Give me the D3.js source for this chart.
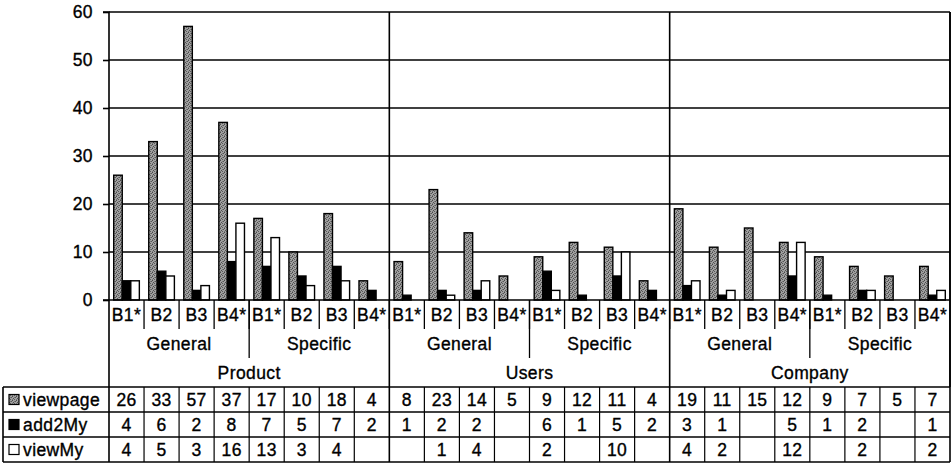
<!DOCTYPE html>
<html>
<head>
<meta charset="utf-8">
<script src="https://cdn.jsdelivr.net/npm/d3@7"></script>
<style>
  html, body { margin: 0; padding: 0; background: #fff; }
  svg { display: block; }
  text { font-family: "Liberation Sans", Arial, sans-serif; fill: #000; stroke: #000; stroke-width: 0.35px; letter-spacing: 0.4px; }
</style>
</head>
<body>
<svg id="chart" width="952" height="465"></svg>
<script>
// Category hierarchy: group > subgroup > item
const groups = ["Product", "Users", "Company"];
const subgroups = ["General", "Specific"];
const items = ["B1*", "B2", "B3", "B4*"];

// Series values, one per category (null = no entry)
const seriesNames = ["viewpage", "add2My", "viewMy"];
const viewpage = [26, 33, 57, 37, 17, 10, 18, 4,
                  8, 23, 14, 5, 9, 12, 11, 4,
                  19, 11, 15, 12, 9, 7, 5, 7];
const add2My = [4, 6, 2, 8, 7, 5, 7, 2,
                1, 2, 2, null, 6, 1, 5, 2,
                3, 1, null, 5, 1, 2, null, 1];
const viewMy = [4, 5, 3, 16, 13, 3, 4, null,
                null, 1, 4, null, 2, null, 10, null,
                4, 2, null, 12, null, 2, null, 2];

const yTicks = [0, 10, 20, 30, 40, 50, 60];

// Flattened category list
const categories = [];
groups.forEach(g => subgroups.forEach(s => items.forEach(it =>
  categories.push({ group: g, sub: s, item: it, key: g + "|" + s + "|" + it }))));

const seriesValues = { viewpage, add2My, viewMy };

const svg = d3.select("#chart");
const FS = 17.5;

// Layout
const plotL = 109, plotR = 950, plotT = 12, plotB = 300;
const rowH1 = 29, rowH2 = 29, rowH3 = 29;
const tableTop = plotB + rowH1 + rowH2 + rowH3; // 387
const tRowH = 25;
const tableLeft = 3;

const x = d3.scaleBand().domain(categories.map(c => c.key)).range([plotL, plotR]).padding(0);
const xs = d3.scaleBand().domain(seriesNames).range([0, x.bandwidth()])
  .paddingInner(0).paddingOuter(0.55);
const y = d3.scaleLinear().domain([0, 60]).range([plotB, plotT]);

// Stippled fill for viewpage
const defs = svg.append("defs");
const pat = defs.append("pattern").attr("id", "dots")
  .attr("width", 4).attr("height", 4).attr("patternUnits", "userSpaceOnUse");
pat.append("rect").attr("width", 4).attr("height", 4).attr("fill", "#a0a0a0");
[[0, 0, "#4a4a4a"], [3, 1, "#555"], [1, 2, "#4f4f4f"], [2, 3, "#5a5a5a"], [2, 1, "#777"], [0, 3, "#777"]]
  .forEach(([px, py, c]) => pat.append("rect").attr("x", px).attr("y", py)
    .attr("width", 1).attr("height", 1).attr("fill", c));

const fills = { viewpage: "url(#dots)", add2My: "#000", viewMy: "#fff" };

// Horizontal gridlines
svg.append("g").selectAll("line").data(yTicks.filter(t => t > 0)).join("line")
  .attr("x1", plotL).attr("x2", plotR)
  .attr("y1", d => y(d)).attr("y2", d => y(d))
  .attr("stroke", "#000").attr("stroke-width", 1.6);

// Y axis
const yAxis = d3.axisLeft(y).tickValues(yTicks).tickSize(6).tickPadding(10);
const ya = svg.append("g").attr("transform", `translate(${plotL},0)`).call(yAxis);
ya.select(".domain").attr("stroke", "#000").attr("stroke-width", 1.6)
  .attr("d", `M-6,${plotT}H0V${tableTop}`);
ya.selectAll(".tick line").attr("stroke", "#000").attr("stroke-width", 1.6);
ya.selectAll(".tick text").attr("font-size", FS).attr("font-family", "Liberation Sans, Arial, sans-serif")
  .attr("fill", "#000").attr("dy", "0.34em");

// Group boundaries (full-height lines)
const groupEdges = groups.map((g, i) => plotL + (i + 1) * 8 * x.step());
svg.append("g").selectAll("line").data(groupEdges).join("line")
  .attr("x1", d => d).attr("x2", d => d)
  .attr("y1", plotT).attr("y2", tableTop)
  .attr("stroke", "#000").attr("stroke-width", 1.6);

// Bars
const barG = svg.append("g");
seriesNames.forEach(s => {
  barG.append("g").selectAll("rect")
    .data(categories.map((c, i) => ({ c, v: seriesValues[s][i] })).filter(d => d.v != null && d.v > 0))
    .join("rect")
    .attr("x", d => x(d.c.key) + xs(s))
    .attr("width", xs.bandwidth())
    .attr("y", d => y(d.v))
    .attr("height", d => y(0) - y(d.v))
    .attr("fill", fills[s])
    .attr("stroke", "#000").attr("stroke-width", 1.4);
});

// Baseline
svg.append("line").attr("x1", plotL - 6).attr("x2", plotR)
  .attr("y1", plotB).attr("y2", plotB).attr("stroke", "#000").attr("stroke-width", 1.6);

// Category axis: item labels and separators
const axG = svg.append("g");
axG.selectAll("text.item").data(categories).join("text")
  .attr("class", "item")
  .attr("x", d => x(d.key) + x.bandwidth() / 2)
  .attr("y", plotB + rowH1 / 2 + 6)
  .attr("text-anchor", "middle").attr("font-size", FS)
  .text(d => d.item);
axG.selectAll("line.itemsep").data(categories.slice(1)).join("line")
  .attr("class", "itemsep")
  .attr("x1", d => x(d.key)).attr("x2", d => x(d.key))
  .attr("y1", plotB).attr("y2", plotB + rowH1)
  .attr("stroke", "#000").attr("stroke-width", 1.3);

// Subgroup labels and separators
const subList = [];
groups.forEach((g, gi) => subgroups.forEach((s, si) => subList.push({ name: s, idx: gi * 2 + si })));
const subW = 4 * x.step();
axG.selectAll("text.sub").data(subList).join("text")
  .attr("class", "sub")
  .attr("x", d => plotL + d.idx * subW + subW / 2)
  .attr("y", plotB + rowH1 + rowH2 / 2 + 6)
  .attr("text-anchor", "middle").attr("font-size", FS)
  .text(d => d.name);
axG.selectAll("line.subsep").data(subList.filter(d => d.idx % 2 === 1)).join("line")
  .attr("class", "subsep")
  .attr("x1", d => plotL + d.idx * subW).attr("x2", d => plotL + d.idx * subW)
  .attr("y1", plotB).attr("y2", plotB + rowH1 + rowH2)
  .attr("stroke", "#000").attr("stroke-width", 1.3);

// Group labels
const grpW = 8 * x.step();
axG.selectAll("text.grp").data(groups).join("text")
  .attr("class", "grp")
  .attr("x", (d, i) => plotL + i * grpW + grpW / 2)
  .attr("y", plotB + rowH1 + rowH2 + rowH3 / 2 + 6)
  .attr("text-anchor", "middle").attr("font-size", FS)
  .text(d => d);

// Data table
const tbl = svg.append("g");
const tableBottom = tableTop + seriesNames.length * tRowH;
// horizontal rules
d3.range(seriesNames.length + 1).forEach(r => {
  tbl.append("line")
    .attr("x1", tableLeft).attr("x2", plotR)
    .attr("y1", tableTop + r * tRowH).attr("y2", tableTop + r * tRowH)
    .attr("stroke", "#000").attr("stroke-width", 1.4);
});
// left border, legend column border, right border
[tableLeft, plotL, plotR].forEach(xx => {
  tbl.append("line").attr("x1", xx).attr("x2", xx)
    .attr("y1", tableTop).attr("y2", tableBottom)
    .attr("stroke", "#000").attr("stroke-width", 1.6);
});
// right border of the plot area down to the table
tbl.append("line").attr("x1", plotR).attr("x2", plotR)
  .attr("y1", plotT).attr("y2", tableTop).attr("stroke", "#000").attr("stroke-width", 1.6);
// column separators
tbl.selectAll("line.col").data(categories.slice(1)).join("line")
  .attr("class", "col")
  .attr("x1", d => x(d.key)).attr("x2", d => x(d.key))
  .attr("y1", tableTop).attr("y2", tableBottom)
  .attr("stroke", "#000").attr("stroke-width", (d, i) => ((i + 1) % 8 === 0 ? 1.6 : 1.2));

seriesNames.forEach((s, r) => {
  const cy = tableTop + r * tRowH + tRowH / 2;
  // legend key
  tbl.append("rect").attr("x", 9).attr("y", cy - 5).attr("width", 10).attr("height", 10)
    .attr("fill", fills[s]).attr("stroke", "#000").attr("stroke-width", 1.2);
  tbl.append("text").attr("x", 23).attr("y", cy + 6)
    .attr("font-size", FS).text(s);
  tbl.append("g").selectAll("text")
    .data(categories.map((c, i) => ({ c, v: seriesValues[s][i] })).filter(d => d.v != null))
    .join("text")
    .attr("x", d => x(d.c.key) + x.bandwidth() / 2)
    .attr("y", cy + 6)
    .attr("text-anchor", "middle").attr("font-size", FS)
    .text(d => d.v);
});
</script>
</body>
</html>
